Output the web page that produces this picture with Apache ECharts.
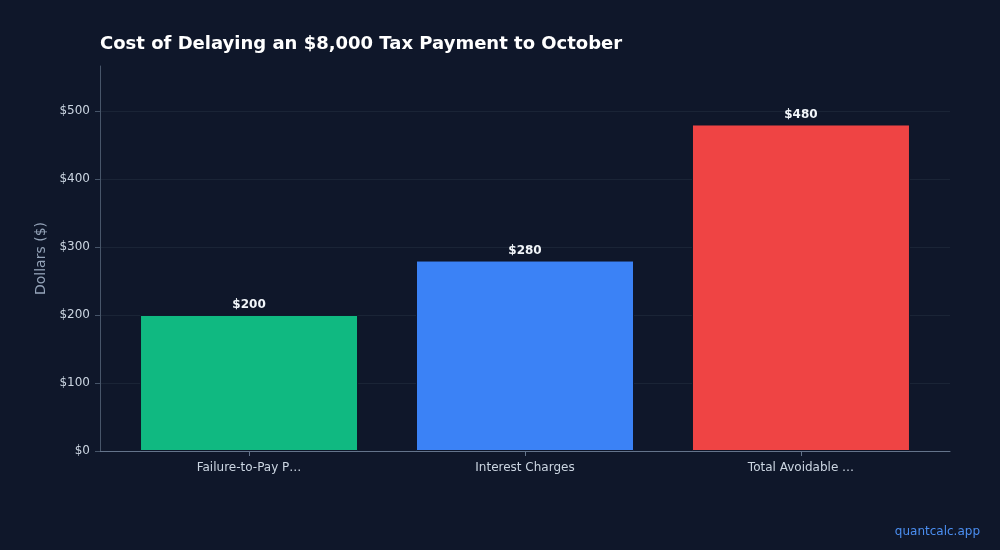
<!DOCTYPE html>
<html><head><meta charset="utf-8">
<script src="https://cdn.jsdelivr.net/npm/echarts@6/dist/echarts.min.js"></script>
<style>html,body{margin:0;padding:0;background:#0f172a;}#c{width:1000px;height:550px;}</style>
</head><body><div id="c"></div>
<script>
const categories = ["Failure-to-Pay Penalty", "Interest Charges", "Total Avoidable Cost"];
const values = [200, 280, 480];
const barColors = ["#10b981", "#3b82f6", "#ef4444"];
const yTicks = [0, 100, 200, 300, 400, 500];

const catIdx = categories.map((c, i) => i);
const chart = echarts.init(document.getElementById('c'), null, {renderer: 'canvas'});
chart.setOption({
  backgroundColor: '#0f172a',
  animation: false,
  textStyle: {fontFamily: 'DejaVu Sans'},
  title: {
    text: 'Cost of Delaying an $8,000 Tax Payment to October',
    left: 95, top: 30,
    textStyle: {color: '#ffffff', fontSize: 18, fontWeight: 'bold', fontFamily: 'DejaVu Sans'}
  },
  graphic: [{
    type: 'text', right: 20, bottom: 12,
    style: {text: 'quantcalc.app', fill: '#4b8ef0', fontSize: 12, fontFamily: 'DejaVu Sans'}
  }],
  grid: {left: 100, right: 50, top: 66, bottom: 99},
  xAxis: {
    type: 'value',
    min: -0.54, max: 2.54,
    axisLine: {show: true, onZero: false, lineStyle: {color: '#64748b'}},
    axisTick: {show: true, customValues: catIdx, lineStyle: {color: '#64748b'}},
    splitLine: {show: false},
    axisLabel: {
      customValues: catIdx,
      color: '#cbd5e1', fontSize: 12, margin: 11,
      formatter: v => {
        const s = categories[Math.round(v)] || '';
        return s.length > 16 ? s.slice(0, 16) + '\u2026' : s;
      }
    }
  },
  yAxis: {
    type: 'value',
    min: 0, max: 566,
    name: 'Dollars ($)', nameLocation: 'middle', nameGap: 45,
    nameTextStyle: {color: '#94a3b8', fontSize: 14},
    axisLine: {show: true, onZero: false, lineStyle: {color: '#475569'}},
    axisTick: {show: true, customValues: yTicks, lineStyle: {color: '#475569'}},
    axisLabel: {customValues: yTicks, color: '#cbd5e1', fontSize: 12, margin: 10, formatter: v => '$' + v},
    splitLine: {lineStyle: {color: '#1a2436'}}
  },
  series: [{
    type: 'bar',
    data: values.map((v, i) => ({value: [i, v], itemStyle: {color: barColors[i]}})),
    barWidth: 218,
    itemStyle: {borderColor: '#0f172a', borderWidth: 1},
    label: {
      show: true, position: 'top', distance: 4,
      color: '#f1f5f9', fontSize: 12, fontWeight: 'bold',
      formatter: p => '$' + p.value[1]
    }
  }]
});
</script></body></html>
